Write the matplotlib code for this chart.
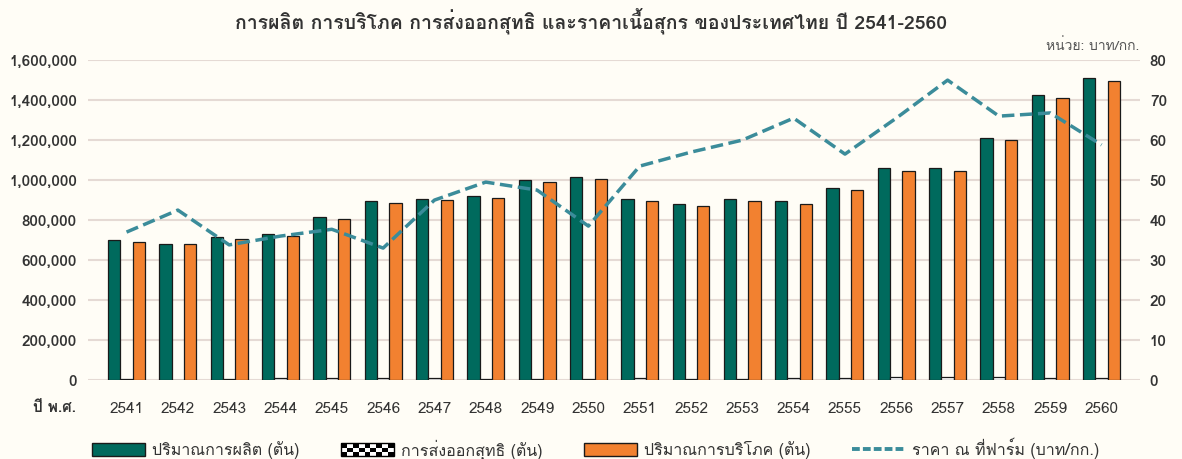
import matplotlib
matplotlib.use('Agg')
import matplotlib.pyplot as plt
import numpy as np
from matplotlib import font_manager
from matplotlib.ft2font import FT2Font
from matplotlib.legend_handler import HandlerBase
from matplotlib.patches import Rectangle, Patch
from matplotlib.lines import Line2D
from matplotlib.ticker import FuncFormatter

years = ['2541', '2542', '2543', '2544', '2545', '2546', '2547', '2548', '2549', '2550',
         '2551', '2552', '2553', '2554', '2555', '2556', '2557', '2558', '2559', '2560']
production = [700000, 682000, 713000, 730000, 817000, 893000, 905000, 920000, 1000000, 1015000,
              907000, 882000, 905000, 893000, 962000, 1060000, 1063000, 1213000, 1425000, 1510000]
export = [3000, 2000, 5000, 10000, 12000, 12000, 8000, 6000, 6000, 5000,
          9000, 6000, 6000, 11000, 12000, 14000, 16000, 15000, 11000, 11000]
consumption = [692000, 678000, 705000, 720000, 805000, 885000, 900000, 910000, 990000, 1005000,
               897000, 872000, 897000, 882000, 950000, 1045000, 1048000, 1200000, 1412000, 1497000]
price = [37.0, 42.5, 33.8, 36.0, 37.7, 33.0, 45.0, 49.5, 47.5, 38.5,
         53.5, 57.0, 60.0, 65.5, 56.5, 65.5, 75.0, 66.0, 66.8, 58.8]


def find_thai_font():
    for f in font_manager.fontManager.ttflist:
        try:
            if FT2Font(f.fname).get_char_index(0x0E01):
                return f.name
        except Exception:
            pass
    return None


thai = find_thai_font()
fams = ([thai] if thai else []) + ['DejaVu Sans']
plt.rcParams['font.family'] = fams

bg = '#FFFDF6'
green = '#006A5D'
orange = '#F28130'
teal = '#3B8C9A'
txt = '#333333'


class CheckerHandler(HandlerBase):
    def create_artists(self, legend, orig_handle, xdescent, ydescent, width, height, fontsize, trans):
        arts = []
        nx, ny = 9, 3
        w = width / nx
        h = height / ny
        for i in range(nx):
            for j in range(ny):
                c = 'black' if (i + j) % 2 == 0 else 'white'
                arts.append(Rectangle((-xdescent + i * w, -ydescent + j * h), w, h,
                                      facecolor=c, edgecolor='none', transform=trans))
        arts.append(Rectangle((-xdescent, -ydescent), width, height, facecolor='none',
                              edgecolor='black', lw=1, transform=trans))
        return arts


fig = plt.figure(figsize=(11.82, 4.59), dpi=100, facecolor=bg)
ax = fig.add_axes([0.0745, 0.172, 0.89, 0.697], facecolor=bg)
ax2 = ax.twinx()

x = np.arange(len(years))
w = 0.24
ax.bar(x - w, production, w, color=green, edgecolor='#1a1a1a', lw=0.9, zorder=3)
ax.bar(x, export, w, color='white', edgecolor='#1a1a1a', lw=0.9, zorder=3)
ax.bar(x + w, consumption, w, color=orange, edgecolor='#1a1a1a', lw=0.9, zorder=3)
ax2.plot(x, price, color=teal, lw=2.5, ls=(0, (3.6, 1.6)), zorder=4)

ax.set_ylim(0, 1600000)
ax.set_yticks(np.arange(0, 1600001, 200000))
ax.yaxis.set_major_formatter(FuncFormatter(lambda v, p: f'{int(v):,}'))
ax2.set_ylim(0, 80)
ax2.set_yticks(np.arange(0, 81, 10))
ax.set_xlim(-0.75, len(years) - 0.25)
ax.set_xticks(x)
ax.set_xticklabels(years)
ax.grid(axis='y', color='#E5DAD4', lw=1.5, zorder=0)
for a in (ax, ax2):
    for s in a.spines.values():
        s.set_visible(False)
    a.tick_params(length=0, labelsize=11, colors=txt)
for lab in ax.get_yticklabels() + ax2.get_yticklabels():
    lab.set_fontweight('bold')
ax.tick_params(axis='y', pad=8)
ax2.tick_params(axis='y', pad=7)
ax.tick_params(axis='x', pad=16)

ax.set_zorder(ax2.get_zorder() - 1)
ax.patch.set_visible(True)
ax2.patch.set_visible(False)

fig.text(0.5, 0.955, 'การผลิต การบริโภค การส่งออกสุทธิ และราคาเนื้อสุกร ของประเทศไทย ปี 2541-2560',
         ha='center', va='center', fontsize=14, fontweight='bold', color=txt)
fig.text(0.964, 0.9, 'หน่วย: บาท/กก.', ha='right', va='center', fontsize=10, color='#555555')
fig.text(0.046, 0.111, 'ปี พ.ศ.', ha='center', va='center', fontsize=11, fontweight='bold', color=txt)

handles = [Patch(facecolor=green, edgecolor='#1a1a1a'),
           Patch(facecolor='white', edgecolor='black'),
           Patch(facecolor=orange, edgecolor='#1a1a1a'),
           Line2D([], [], color=teal, lw=2.8, ls=(0, (2.0, 0.8)))]
labels = ['ปริมาณการผลิต (ตัน)', 'การส่งออกสุทธิ (ตัน)', 'ปริมาณการบริโภค (ตัน)', 'ราคา ณ ที่ฟาร์ม (บาท/กก.)']
leg = fig.legend(handles, labels, loc='center left', bbox_to_anchor=(0.066, 0.022), ncol=4,
                 frameon=False, fontsize=11.5, handlelength=3.3, handleheight=0.87,
                 handletextpad=0.45, columnspacing=2.6,
                 handler_map={handles[1]: CheckerHandler()})
for t in leg.get_texts():
    t.set_color(txt)

fig.savefig('out.png', dpi=100, facecolor=bg)
